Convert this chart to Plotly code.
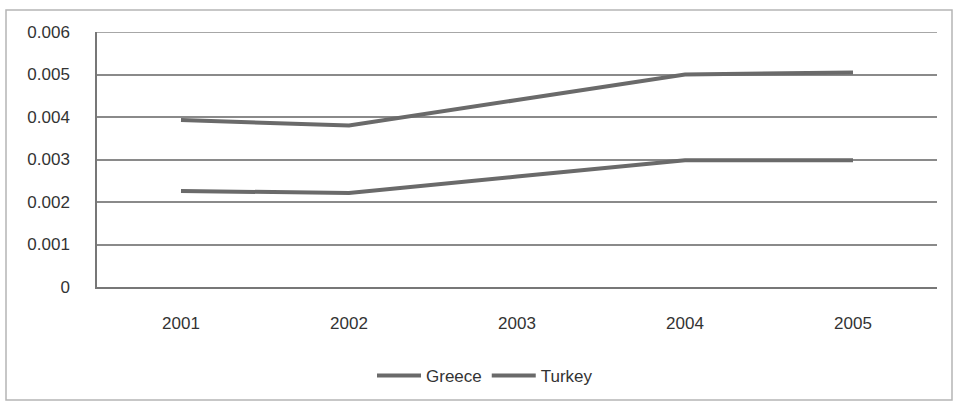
import plotly.graph_objects as go

years = ["2001", "2002", "2003", "2004", "2005"]
greece = [0.00393, 0.00380, 0.00440, 0.00500, 0.00505]
turkey = [0.00226, 0.00221, 0.00260, 0.00298, 0.00298]
y_ticks = [0, 0.001, 0.002, 0.003, 0.004, 0.005, 0.006]
y_labels = ["0", "0.001", "0.002", "0.003", "0.004", "0.005", "0.006"]

W, H = 956, 403
ml, mr, mt, mb = 97, 19, 32, 116

fig = go.Figure()
fig.add_trace(go.Scatter(x=years, y=greece, name="Greece", mode="lines",
                         line=dict(color="#6a6a6a", width=4)))
fig.add_trace(go.Scatter(x=years, y=turkey, name="Turkey", mode="lines",
                         line=dict(color="#6a6a6a", width=4)))

pw = W - ml - mr
ph = H - mt - mb
def px_x(p):
    return (p - ml) / pw
def px_y(p):
    return (H - mb - p) / ph

fig.add_shape(type="rect", xref="paper", yref="paper",
              x0=px_x(6), x1=px_x(952), y0=px_y(400), y1=px_y(10),
              line=dict(color="#b5b5b5", width=1.5), layer="below")
# top gridline at the range end
fig.add_shape(type="line", xref="paper", yref="y", x0=0, x1=1,
              y0=y_ticks[-1], y1=y_ticks[-1],
              line=dict(color="#8a8a8a", width=1.5), layer="below")

fig.update_layout(
    width=W, height=H,
    margin=dict(l=ml, r=mr, t=mt, b=mb, autoexpand=False),
    paper_bgcolor="white", plot_bgcolor="white",
    font=dict(family="Liberation Sans, Arial", size=17, color="#333333"),
    showlegend=True,
    legend=dict(orientation="h", xref="container", x=485 / W, xanchor="center",
                yref="container", y=1 - 376 / H, yanchor="middle",
                bgcolor="rgba(0,0,0,0)",
                font=dict(size=17, color="#333333"), itemwidth=44, tracegroupgap=0),
    xaxis=dict(type="category", range=[-0.5, 4.5], showgrid=False,
               showline=True, linecolor="#777777", linewidth=1.5,
               ticks="", tickfont=dict(size=17, color="#333333"), ticklabelstandoff=20),
    yaxis=dict(range=[0, 0.006], tickvals=y_ticks, ticktext=y_labels,
               showgrid=True, gridcolor="#8a8a8a", gridwidth=1.5,
               showline=True, linecolor="#777777", linewidth=1.5,
               zeroline=False, ticks="", ticklabelstandoff=22,
               tickfont=dict(size=17, color="#333333")),
)

fig.write_html("out.html")
